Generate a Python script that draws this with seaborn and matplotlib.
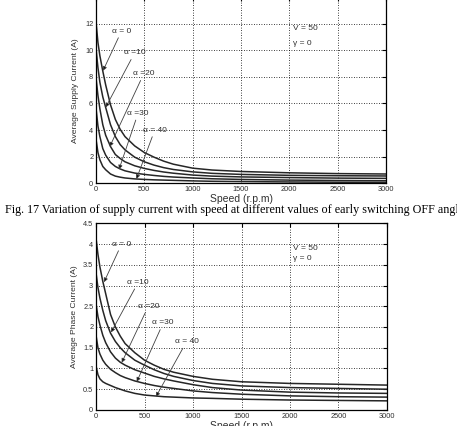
import numpy as np
import pandas as pd
import matplotlib
matplotlib.use("Agg")
import matplotlib.pyplot as plt
import seaborn as sns

# ---------------- data ----------------
speeds = [2, 20, 40, 70, 100, 150, 200, 250, 300, 400, 500, 600, 700, 800,
          1000, 1200, 1500, 2000, 2500, 3000]

alpha_names = ["α = 0", "α =10", "α =20", "α =30", "α = 40"]

supply_a0 = [12.0, 10.6, 9.6, 8.45, 7.4, 5.9, 4.8, 4.05, 3.5, 2.8, 2.3, 1.95, 1.65, 1.42,
             1.12, 0.98, 0.87, 0.77, 0.71, 0.68]
supply_a10 = [10.0, 8.7, 7.6, 6.5, 5.7, 4.4, 3.5, 2.9, 2.5, 1.95, 1.6, 1.35, 1.16, 1.02,
              0.84, 0.73, 0.65, 0.58, 0.55, 0.53]
supply_a20 = [7.8, 6.6, 5.6, 4.4, 3.6, 2.75, 2.15, 1.85, 1.6, 1.3, 1.1, 0.95, 0.83, 0.74,
              0.6, 0.52, 0.46, 0.41, 0.37, 0.35]
supply_a30 = [5.5, 4.3, 3.5, 2.6, 2.1, 1.55, 1.25, 1.06, 0.92, 0.75, 0.65, 0.57, 0.5, 0.45,
              0.38, 0.32, 0.27, 0.22, 0.19, 0.17]
supply_a40 = [3.2, 2.3, 1.75, 1.25, 1.0, 0.68, 0.52, 0.44, 0.38, 0.31, 0.27, 0.24, 0.22, 0.2,
              0.16, 0.13, 0.11, 0.08, 0.06, 0.05]

phase_a0 = [4.1, 3.75, 3.45, 3.1, 2.8, 2.3, 2.0, 1.78, 1.6, 1.38, 1.2, 1.08, 0.98, 0.91,
            0.81, 0.74, 0.68, 0.64, 0.62, 0.6]
phase_a10 = [3.27, 2.95, 2.7, 2.4, 2.15, 1.85, 1.65, 1.5, 1.38, 1.2, 1.08, 0.97, 0.88, 0.81,
             0.71, 0.64, 0.58, 0.54, 0.52, 0.5]
phase_a20 = [2.53, 2.25, 2.05, 1.8, 1.62, 1.4, 1.25, 1.15, 1.08, 0.97, 0.89, 0.81, 0.75, 0.7,
             0.61, 0.54, 0.48, 0.43, 0.41, 0.4]
phase_a30 = [1.77, 1.5, 1.35, 1.2, 1.1, 0.98, 0.9, 0.83, 0.78, 0.7, 0.64, 0.59, 0.55, 0.52,
             0.46, 0.42, 0.38, 0.34, 0.32, 0.31]
phase_a40 = [1.04, 0.85, 0.75, 0.68, 0.64, 0.59, 0.54, 0.5, 0.46, 0.4, 0.36, 0.34, 0.32, 0.31,
             0.29, 0.28, 0.26, 0.24, 0.23, 0.22]

x_ticks = [0, 500, 1000, 1500, 2000, 2500, 3000]
supply_yticks = [0, 2, 4, 6, 8, 10, 12, 14]
supply_ytick_labels = ["0", "2", "4", "6", "8", "10", "12", ""]
phase_yticks = [0, 0.5, 1, 1.5, 2, 2.5, 3, 3.5, 4, 4.5]
phase_ytick_labels = ["0", "0.5", "1", "1.5", "2", "2.5", "3", "3.5", "4", "4.5"]

# label position (speed, current) and arrow tip (speed, current)
supply_label_pos = [(264, 11.47), (400, 9.83), (494, 8.25), (435, 5.26), (608, 4.0)]
supply_arrow_tip = [(72, 8.47), (100, 5.71), (142, 2.74), (238, 1.03), (418, 0.3)]
phase_label_pos = [(264, 4.0), (436, 3.08), (539, 2.5), (693, 2.1), (934, 1.65)]
phase_arrow_tip = [(82, 3.08), (155, 1.87), (265, 1.14), (420, 0.68), (618, 0.32)]

caption = "Fig. 17 Variation of supply current with speed at different values of early switching OFF angle"

# ---------------- styling ----------------
sns.set_theme(style="white")
plt.rcParams["font.family"] = ["Liberation Sans", "DejaVu Sans"]

fig = plt.figure(figsize=(4.57, 4.26), dpi=100)
ax1 = fig.add_axes([0.2101, 0.5704, 0.6346, 0.4355])
ax2 = fig.add_axes([0.2101, 0.0376, 0.6367, 0.4383])

line_color = "#262626"
text_color = "#303030"


def long_form(curves):
    rows = []
    for name, vals in zip(alpha_names, curves):
        for s, v in zip(speeds, vals):
            rows.append({"speed": s, "current": v, "alpha": name})
    return pd.DataFrame(rows)


def style_axes(ax, yticks, ylim, ylabel, yticklabels):
    ax.set_xlim(0, 3000)
    ax.set_ylim(*ylim)
    ax.set_xticks(x_ticks)
    ax.set_xticklabels([str(t) for t in x_ticks], fontsize=5.3, color=text_color)
    ax.set_yticks(yticks)
    ax.set_yticklabels(yticklabels, fontsize=5.3, color=text_color)
    ax.tick_params(direction="in", length=3, width=0.8, colors="black",
                   labelcolor=text_color, pad=2, top=True, right=True)
    ax.grid(True, color="black", linestyle=(0, (1, 2)), linewidth=0.6)
    for sp in ax.spines.values():
        sp.set_color("black")
        sp.set_linewidth(0.9)
    ax.set_xlabel("Speed (r.p.m)", fontsize=7.5, color=text_color, labelpad=1)
    ax.set_ylabel(ylabel, fontsize=6.1, color=text_color, labelpad=4)


def annotate(ax, label_pos, tips):
    for name, (lx, ly), (tx, ty) in zip(alpha_names, label_pos, tips):
        ax.annotate(name, xy=(tx, ty), xytext=(lx, ly), fontsize=6,
                    color=text_color, ha="center", va="center",
                    arrowprops=dict(arrowstyle="-|>", color="#505050", lw=0.6,
                                    mutation_scale=6, shrinkA=0, shrinkB=0,
                                    fc="black", ec="#404040"))


supply_df = long_form([supply_a0, supply_a10, supply_a20, supply_a30, supply_a40])
phase_df = long_form([phase_a0, phase_a10, phase_a20, phase_a30, phase_a40])

sns.lineplot(data=supply_df, x="speed", y="current", hue="alpha",
             palette=[line_color] * 5, legend=False, ax=ax1, linewidth=1.1,
             estimator=None)
sns.lineplot(data=phase_df, x="speed", y="current", hue="alpha",
             palette=[line_color] * 5, legend=False, ax=ax2, linewidth=1.1,
             estimator=None)

style_axes(ax1, supply_yticks, (0, 14), "Average Supply Current (A)", supply_ytick_labels)
style_axes(ax2, phase_yticks, (0, 4.5), "Average Phase Current (A)", phase_ytick_labels)

annotate(ax1, supply_label_pos, supply_arrow_tip)
annotate(ax2, phase_label_pos, phase_arrow_tip)

ax1.text(2040, 11.67, "V = 50", fontsize=6, color=text_color, ha="left", va="center")
ax1.text(2040, 10.54, "γ = 0", fontsize=6, color=text_color, ha="left", va="center")
ax2.text(2030, 3.9, "V = 50", fontsize=6, color=text_color, ha="left", va="center")
ax2.text(2030, 3.64, "γ = 0", fontsize=6, color=text_color, ha="left", va="center")

fig.text(5 / 457, 1 - 210 / 426, caption, fontsize=8.7, color="black",
         family=["Liberation Serif", "DejaVu Serif"], ha="left", va="center")

fig.savefig("out.png", dpi=100)
